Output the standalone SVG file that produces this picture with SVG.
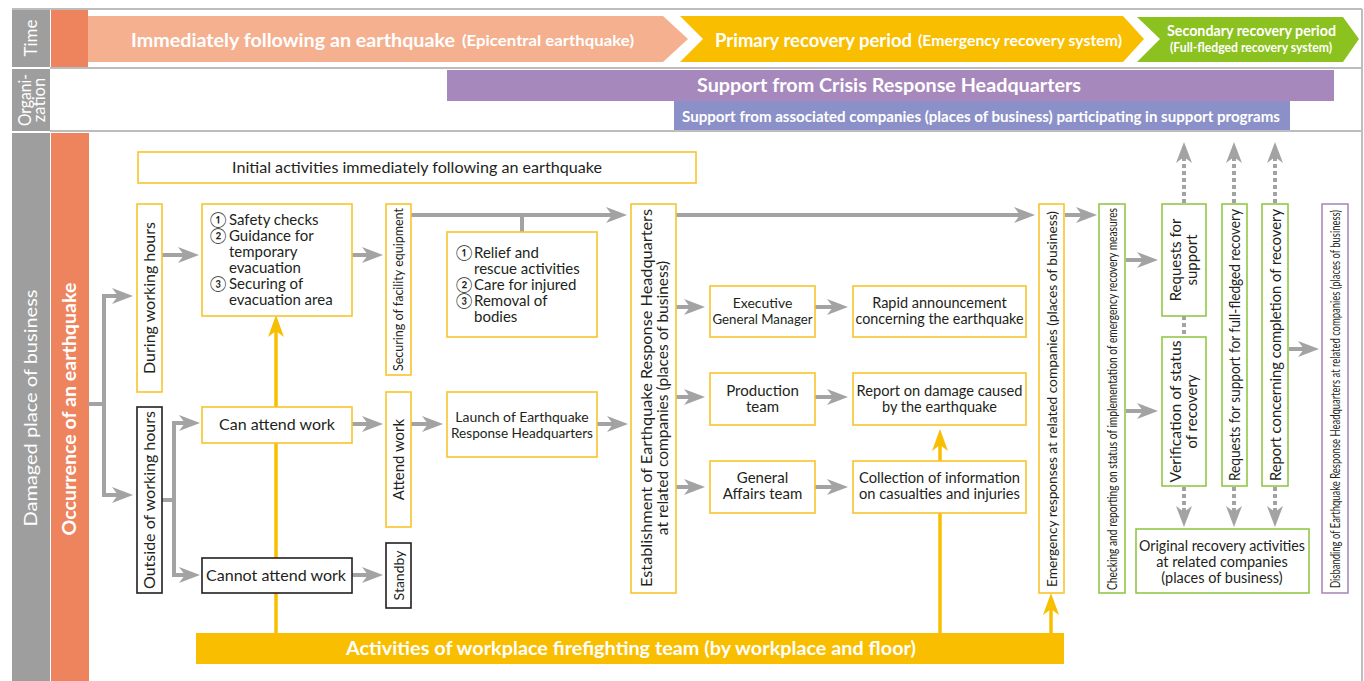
<svg xmlns="http://www.w3.org/2000/svg" width="1364" height="681" viewBox="0 0 1364 681">
<defs>
<style>
.t{font-family:Lato,"DejaVu Sans","Noto Sans",sans-serif;fill:#231F20}
.w{font-family:Lato,"Noto Sans",sans-serif;fill:#fff}
.b{font-weight:700}
.by{fill:#fff;stroke:#F8C52B;stroke-width:1.6}
.bk{fill:#fff;stroke:#231F20;stroke-width:1.6}
.bg{fill:#fff;stroke:#93C747;stroke-width:1.6}
.bp{fill:#fff;stroke:#A98BC1;stroke-width:1.6}
.ga{stroke:#A3A3A3;stroke-width:4;fill:none;marker-end:url(#ag)}
.gl{stroke:#A3A3A3;stroke-width:4;fill:none}
.gd{stroke:#A3A3A3;stroke-width:4;fill:none;stroke-dasharray:4 3;marker-end:url(#ag)}
.gdl{stroke:#A3A3A3;stroke-width:4;fill:none;stroke-dasharray:4 3}
.ya{stroke:#F8BE00;stroke-width:3.5;fill:none;marker-end:url(#ay)}
.fr{stroke:#BDBDBD;stroke-width:2;fill:none}
</style>
<marker id="ag" markerUnits="userSpaceOnUse" markerWidth="22" markerHeight="16" refX="10" refY="8" orient="auto">
<path d="M0,0 L21,8 L0,16 L6,8 z" fill="#A3A3A3"/>
</marker>
<marker id="ay" markerUnits="userSpaceOnUse" markerWidth="22" markerHeight="18" refX="10" refY="8" orient="auto">
<path d="M0,0 L22,8 L0,16 L6,8 z" fill="#F8BE00"/>
</marker>
</defs>

<g id="frame">
<rect x="0" y="0" width="1364" height="681" fill="#fff"/>
<line class="fr" x1="12" y1="9" x2="1362" y2="9"/>
<line class="fr" x1="1362" y1="9" x2="1362" y2="681"/>
<line class="fr" x1="50" y1="68" x2="1362" y2="68"/>
<line class="fr" x1="50" y1="131" x2="1362" y2="131"/>
<rect x="12" y="10" width="38" height="57" fill="#9E9E9E"/>
<rect x="12" y="69" width="38" height="62" fill="#9E9E9E"/>
<rect x="12" y="133" width="38" height="548" fill="#9E9E9E"/>
<rect x="51" y="10" width="37" height="57" fill="#EE845D"/>
<rect x="51" y="133" width="38" height="548" fill="#EE845D"/>
<text class="w" font-size="17" text-anchor="middle" transform="translate(31,38) rotate(-90)" y="6">Time</text>
<text class="w" font-size="16.5" text-anchor="middle" transform="translate(31,100) rotate(-90)" y="0" textLength="52" lengthAdjust="spacingAndGlyphs">Organi-</text>
<text class="w" font-size="16.5" text-anchor="middle" transform="translate(31,100) rotate(-90)" y="14">zation</text>
<text class="w" font-size="18" text-anchor="middle" transform="translate(31,408) rotate(-90)" y="6" textLength="237" lengthAdjust="spacingAndGlyphs">Damaged place of business</text>
<text class="w b" font-size="18" text-anchor="middle" transform="translate(70,409) rotate(-90)" y="6" textLength="253" lengthAdjust="spacingAndGlyphs">Occurrence of an earthquake</text>
</g>

<g id="time-banners">
<polygon points="88,16 663,16 688,39 663,62 88,62" fill="#F5B090"/>
<polygon points="680,16 1123,16 1144,39 1123,62 680,62 703,39" fill="#F9BE00"/>
<polygon points="1137,17 1343,17 1359,39 1343,62 1137,62 1160,39" fill="#8CC21F"/>
<text class="w b" font-size="19" x="131" y="47" textLength="324" lengthAdjust="spacingAndGlyphs">Immediately following an earthquake</text>
<text class="w b" font-size="14.5" x="462" y="46" textLength="172" lengthAdjust="spacingAndGlyphs">(Epicentral earthquake)</text>
<text class="w b" font-size="19" x="715" y="47" textLength="197" lengthAdjust="spacingAndGlyphs">Primary recovery period</text>
<text class="w b" font-size="14.5" x="918" y="46" textLength="204" lengthAdjust="spacingAndGlyphs">(Emergency recovery system)</text>
<text class="w b" font-size="16" x="1167" y="36" textLength="169" lengthAdjust="spacingAndGlyphs">Secondary recovery period</text>
<text class="w b" font-size="13" x="1170" y="52" textLength="162" lengthAdjust="spacingAndGlyphs">(Full-fledged recovery system)</text>
</g>

<g id="organization">
<rect x="447" y="70" width="887" height="31" fill="#A688BC"/>
<rect x="674" y="101" width="616" height="29" fill="#8C90C8"/>
<text class="w b" font-size="18" x="697" y="92" textLength="384" lengthAdjust="spacingAndGlyphs">Support from Crisis Response Headquarters</text>
<text class="w b" font-size="15" x="682" y="122" textLength="598" lengthAdjust="spacingAndGlyphs">Support from associated companies (places of business) participating in support programs</text>
</g>

<g id="connectors">
<path class="ga" d="M88,404 H104 V296 H122"/>
<path class="ga" d="M104,404 V495 H122"/>
<path class="ga" d="M162,255 H188"/>
<path class="ga" d="M162,500 H174 V423 H189"/>
<path class="ga" d="M174,500 V575 H189"/>
<path class="ga" d="M352,255 H372"/>
<path class="ga" d="M411,215 H616"/>
<path class="gl" d="M522,215 V233"/>
<path class="ga" d="M352,424 H372"/>
<path class="ga" d="M411,424 H432"/>
<path class="ga" d="M597,424 H617"/>
<path class="ga" d="M352,575 H372"/>
<path class="ga" d="M676,307 H694"/>
<path class="ga" d="M676,397 H694"/>
<path class="ga" d="M676,487 H694"/>
<path class="ga" d="M815,307 H837"/>
<path class="ga" d="M815,397 H837"/>
<path class="ga" d="M815,487 H837"/>
<path class="ga" d="M676,215 H1024"/>
<path class="ga" d="M1065,215 H1086"/>
<path class="ga" d="M1126,260 H1147"/>
<path class="ga" d="M1126,411 H1147"/>
<path class="ga" d="M1289,349 H1308"/>
<path class="gd" d="M1184,203 V153"/>
<path class="gd" d="M1234,203 V153"/>
<path class="gd" d="M1275,203 V153"/>
<path class="gdl" d="M1184,316 V337"/>
<path class="gd" d="M1184,487 V516"/>
<path class="gd" d="M1234,487 V516"/>
<path class="gd" d="M1275,487 V516"/>
<path class="ya" d="M276,634 V327"/>
<path class="ya" d="M940,634 V441"/>
<path class="ya" d="M1051,634 V605"/>
</g>

<g id="initial-activities">
<rect class="by" x="138" y="152" width="558" height="31"/>
<text class="t" font-size="15" x="417" y="173" text-anchor="middle" textLength="370" lengthAdjust="spacingAndGlyphs">Initial activities immediately following an earthquake</text>
</g>

<g id="during-working-hours">
<rect class="by" x="137" y="204" width="25" height="188"/>
<text class="t" font-size="15" text-anchor="middle" transform="translate(149.5,298) rotate(-90)" y="5.5" textLength="152" lengthAdjust="spacingAndGlyphs">During working hours</text>
</g>

<g id="outside-working-hours">
<rect class="bk" x="137" y="407" width="25" height="186"/>
<text class="t" font-size="15" text-anchor="middle" transform="translate(149.5,500) rotate(-90)" y="5.5" textLength="178" lengthAdjust="spacingAndGlyphs">Outside of working hours</text>
</g>

<g id="safety-checks">
<rect class="by" x="202" y="204" width="150" height="112"/>
<text class="t" font-size="15" x="210" y="225">①<tspan x="229">Safety checks</tspan></text>
<text class="t" font-size="15" x="210" y="241">②<tspan x="229">Guidance for</tspan></text>
<text class="t" font-size="15" x="229" y="257">temporary</text>
<text class="t" font-size="15" x="229" y="273">evacuation</text>
<text class="t" font-size="15" x="210" y="289">③<tspan x="229">Securing of</tspan></text>
<text class="t" font-size="15" x="229" y="305">evacuation area</text>
</g>

<g id="securing-facility">
<rect class="by" x="386" y="204" width="25" height="171"/>
<text class="t" font-size="13" text-anchor="middle" transform="translate(398.5,289.5) rotate(-90)" y="4.5" textLength="163" lengthAdjust="spacingAndGlyphs">Securing of facility equipment</text>
</g>

<g id="relief">
<rect class="by" x="447" y="232" width="150" height="105"/>
<text class="t" font-size="15" x="456" y="258">①<tspan x="474">Relief and</tspan></text>
<text class="t" font-size="15" x="474" y="274">rescue activities</text>
<text class="t" font-size="15" x="456" y="290">②<tspan x="474">Care for injured</tspan></text>
<text class="t" font-size="15" x="456" y="306">③<tspan x="474">Removal of</tspan></text>
<text class="t" font-size="15" x="474" y="322">bodies</text>
</g>

<g id="can-attend">
<rect class="by" x="202" y="407" width="150" height="36"/>
<text class="t" font-size="15" x="277" y="430" text-anchor="middle" textLength="116" lengthAdjust="spacingAndGlyphs">Can attend work</text>
</g>

<g id="cannot-attend">
<rect class="bk" x="202" y="558" width="150" height="35"/>
<text class="t" font-size="15" x="276" y="581" text-anchor="middle" textLength="140" lengthAdjust="spacingAndGlyphs">Cannot attend work</text>
</g>

<g id="attend-work">
<rect class="by" x="386" y="392" width="25" height="135"/>
<text class="t" font-size="15" text-anchor="middle" transform="translate(398.5,459.5) rotate(-90)" y="5.5">Attend work</text>
</g>

<g id="standby">
<rect class="bk" x="386" y="543" width="25" height="65"/>
<text class="t" font-size="14" text-anchor="middle" transform="translate(398.5,575.5) rotate(-90)" y="5">Standby</text>
</g>

<g id="launch">
<rect class="by" x="447" y="392" width="150" height="65"/>
<text class="t" font-size="14" x="522" y="422" text-anchor="middle">Launch of Earthquake</text>
<text class="t" font-size="14" x="522" y="438" text-anchor="middle" textLength="142" lengthAdjust="spacingAndGlyphs">Response Headquarters</text>
</g>

<g id="establishment">
<rect class="by" x="631" y="204" width="45" height="389"/>
<text class="t" font-size="15.5" text-anchor="middle" transform="translate(653,398) rotate(-90)" y="-1" textLength="378" lengthAdjust="spacingAndGlyphs">Establishment of Earthquake Response Headquarters</text>
<text class="t" font-size="15.5" text-anchor="middle" transform="translate(653,398) rotate(-90)" y="15">at related companies (places of business)</text>
</g>

<g id="executive">
<rect class="by" x="710" y="286" width="105" height="51"/>
<text class="t" font-size="14" x="762.5" y="308" text-anchor="middle">Executive</text>
<text class="t" font-size="14" x="762.5" y="324" text-anchor="middle" textLength="100" lengthAdjust="spacingAndGlyphs">General Manager</text>
</g>

<g id="production">
<rect class="by" x="710" y="373" width="105" height="52"/>
<text class="t" font-size="15" x="762.5" y="396" text-anchor="middle">Production</text>
<text class="t" font-size="15" x="762.5" y="412" text-anchor="middle">team</text>
</g>

<g id="general-affairs">
<rect class="by" x="710" y="461" width="105" height="52"/>
<text class="t" font-size="15" x="762.5" y="483" text-anchor="middle">General</text>
<text class="t" font-size="15" x="762.5" y="499" text-anchor="middle">Affairs team</text>
</g>

<g id="rapid-announcement">
<rect class="by" x="853" y="286" width="173" height="51"/>
<text class="t" font-size="14.5" x="939.5" y="308" text-anchor="middle">Rapid announcement</text>
<text class="t" font-size="14.5" x="939.5" y="324" text-anchor="middle" textLength="168" lengthAdjust="spacingAndGlyphs">concerning the earthquake</text>
</g>

<g id="damage-report">
<rect class="by" x="853" y="373" width="173" height="52"/>
<text class="t" font-size="14.5" x="939.5" y="396" text-anchor="middle" textLength="166" lengthAdjust="spacingAndGlyphs">Report on damage caused</text>
<text class="t" font-size="14.5" x="939.5" y="412" text-anchor="middle">by the earthquake</text>
</g>

<g id="collection">
<rect class="by" x="853" y="461" width="173" height="52"/>
<text class="t" font-size="14.5" x="939.5" y="483" text-anchor="middle" textLength="161" lengthAdjust="spacingAndGlyphs">Collection of information</text>
<text class="t" font-size="14.5" x="939.5" y="499" text-anchor="middle" textLength="161" lengthAdjust="spacingAndGlyphs">on casualties and injuries</text>
</g>

<g id="emergency-responses">
<rect class="by" x="1039" y="204" width="25" height="389"/>
<text class="t" font-size="14" text-anchor="middle" transform="translate(1051.5,399) rotate(-90)" y="5" textLength="376" lengthAdjust="spacingAndGlyphs">Emergency responses at related companies (places of business)</text>
</g>

<g id="checking">
<rect class="bg" x="1099" y="204" width="26" height="389"/>
<text class="t" font-size="13" text-anchor="middle" transform="translate(1112,399) rotate(-90)" y="4.5" textLength="382" lengthAdjust="spacingAndGlyphs">Checking and reporting on status of implementation of emergency recovery measures</text>
</g>

<g id="requests-support">
<rect class="bg" x="1162" y="204" width="44" height="112"/>
<text class="t" font-size="15" text-anchor="middle" transform="translate(1184,260) rotate(-90)" y="-3">Requests for</text>
<text class="t" font-size="15" text-anchor="middle" transform="translate(1184,260) rotate(-90)" y="13">support</text>
</g>

<g id="verification">
<rect class="bg" x="1162" y="337" width="44" height="149"/>
<text class="t" font-size="15" text-anchor="middle" transform="translate(1184,411.5) rotate(-90)" y="-3" textLength="142" lengthAdjust="spacingAndGlyphs">Verification of status</text>
<text class="t" font-size="15" text-anchor="middle" transform="translate(1184,411.5) rotate(-90)" y="13">of recovery</text>
</g>

<g id="requests-full-fledged">
<rect class="bg" x="1222" y="204" width="25" height="282"/>
<text class="t" font-size="15" text-anchor="middle" transform="translate(1234.5,345) rotate(-90)" y="5.5" textLength="272" lengthAdjust="spacingAndGlyphs">Requests for support for full-fledged recovery</text>
</g>

<g id="report-completion">
<rect class="bg" x="1262" y="204" width="26" height="282"/>
<text class="t" font-size="15" text-anchor="middle" transform="translate(1275,345) rotate(-90)" y="5.5" textLength="272" lengthAdjust="spacingAndGlyphs">Report concerning completion of recovery</text>
</g>

<g id="original-recovery">
<rect class="bg" x="1136" y="529" width="173" height="64"/>
<text class="t" font-size="14.5" x="1222" y="551" text-anchor="middle" textLength="166" lengthAdjust="spacingAndGlyphs">Original recovery activities</text>
<text class="t" font-size="14.5" x="1222" y="567" text-anchor="middle">at related companies</text>
<text class="t" font-size="14.5" x="1222" y="583" text-anchor="middle">(places of business)</text>
</g>

<g id="disbanding">
<rect class="bp" x="1322" y="204" width="26" height="389"/>
<text class="t" font-size="12.5" text-anchor="middle" transform="translate(1335,399) rotate(-90)" y="4.5" textLength="378" lengthAdjust="spacingAndGlyphs">Disbanding of Earthquake Response Headquarters at related companies (places of business)</text>
</g>

<g id="firefighting">
<rect x="196" y="633" width="868" height="31" fill="#F9BE00"/>
<text class="w b" font-size="18" x="631" y="655" text-anchor="middle" textLength="570" lengthAdjust="spacingAndGlyphs">Activities of workplace firefighting team (by workplace and floor)</text>
</g>
</svg>
